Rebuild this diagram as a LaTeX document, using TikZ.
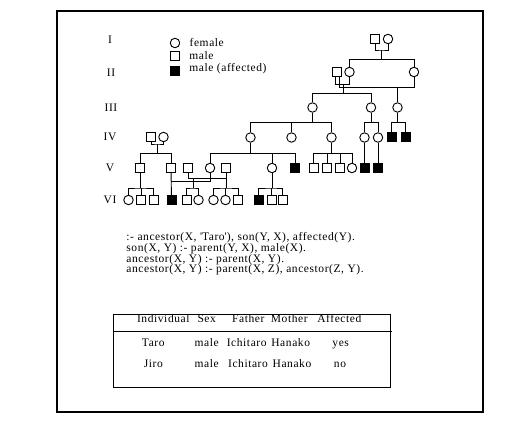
\documentclass[tikz,border=0pt]{standalone}
\usepackage{fontspec}
\setmainfont{Liberation Serif}[LetterSpace=5]
\usetikzlibrary{positioning}

\begin{document}
\begin{tikzpicture}[x=1pt,y=-1pt,line width=0.9pt,
  female/.style={draw,circle,minimum size=9.5pt,inner sep=0pt},
  male/.style={draw,rectangle,minimum size=9pt,inner sep=0pt},
  affected/.style={male,fill=black},
  txt/.style={inner sep=0pt,font=\fontsize{11.5}{10.7}\selectfont},
  cell/.style={txt,text height=8pt,text depth=2.5pt}]

\useasboundingbox (0,0) rectangle (515,426);
\draw[line width=1.3pt] (57,11) rectangle (483,412);

% generation labels
\node[txt] (g1) at (110,40) {I};
\node[txt] (g2) at (111,73) {II};
\node[txt] (g3) at (111,108) {III};
\node[txt] (g4) at (110,137) {IV};
\node[txt] (g5) at (110,168) {V};
\node[txt] (g6) at (110,200) {VI};

% legend
\node[female] (lf) at (175,43) {};
\node[male] (lm) at (175,55.5) {};
\node[affected] (la) at (175,71) {};
\node[txt,right=9pt of lf] (tf) {female};
\node[txt,right=9pt of lm] (tm) {male};
\node[txt,right=9pt of la,yshift=2pt] (ta) {male (affected)};

% generation I
\node[male] (a1) at (375,39) {};
\node[female] (a2) at (388,39) {};
% generation II
\node[male] (b1) at (337,72) {};
\node[female] (b2) at (349.5,72) {};
\node[female] (b3) at (414,72) {};
% generation III
\node[female] (c1) at (312.5,107.5) {};
\node[female] (c2) at (371,107.5) {};
\node[female] (c3) at (397.5,107.5) {};
% generation IV
\node[male] (d1) at (151,137) {};
\node[female] (d2) at (163.5,137) {};
\node[female] (d3) at (250.5,137.5) {};
\node[female] (d4) at (291.5,137.5) {};
\node[female] (d5) at (331.5,137.5) {};
\node[female] (d6) at (364.5,137.5) {};
\node[female] (d7) at (378,137.5) {};
\node[affected] (d8) at (391.5,137) {};
\node[affected] (d9) at (405.5,137) {};
% generation V
\node[male] (e1) at (140,168) {};
\node[male] (e2) at (171,168) {};
\node[male] (e3) at (188,168) {};
\node[female] (e4) at (210,168) {};
\node[male] (e5) at (226,168) {};
\node[female] (e6) at (272,168) {};
\node[affected] (e7) at (295,168) {};
\node[male] (e8) at (313.5,168) {};
\node[male] (e9) at (327,168) {};
\node[male] (e10) at (340,168) {};
\node[female] (e11) at (352,168) {};
\node[affected] (e12) at (364.5,168) {};
\node[affected] (e13) at (378,168) {};
% generation VI
\node[female] (f1) at (128.5,200) {};
\node[male] (f2) at (141,200) {};
\node[male] (f3) at (153.5,200) {};
\node[affected] (f4) at (171.5,200) {};
\node[male] (f5) at (186.5,200) {};
\node[female] (f6) at (198.5,200) {};
\node[female] (f7) at (213.5,200) {};
\node[female] (f8) at (225.5,200) {};
\node[male] (f9) at (238,200) {};
\node[affected] (f10) at (258.5,200) {};
\node[male] (f11) at (271.5,200) {};
\node[male] (f12) at (282.5,200) {};

% I -> II
\coordinate (m1) at (381.5,50);
\coordinate (s1) at (381.5,59.5);
\draw (a1) |- (m1) -| (a2);
\draw (m1) -- (s1);
\draw (b2) |- (s1) -| (b3);

% II -> III
\coordinate (m2) at (343.5,84.5);
\coordinate (m3) at (397.5,87.5);
\coordinate (s2) at (343.5,93.5);
\draw ([xshift=-1.5pt]b1.south) |- (m2) -| (b2);
\draw ([xshift=2pt]b1.south) |- (m3) -| (b3);
\draw (m2) -- (s2);
\draw (c1) |- (s2) -| (c2);
\draw (m3) -- (c3);

% III -> IV
\coordinate (s3) at (312.5,122.5);
\coordinate (s4) at (371,122.5);
\coordinate (s5) at (398,122.5);
\draw (c1) -- (s3);
\draw (d3) |- (s3) -| (d5);
\draw (d4) -- (d4 |- s3);
\draw (c2) -- (s4);
\draw (d6) |- (s4) -| (d7);
\draw (c3) -- (c3 |- s5);
\draw (d8) |- (s5) -| (d9);

% IV -> V
\coordinate (m4) at (157.25,144);
\coordinate (s6) at (157.25,153.5);
\coordinate (s7) at (250.5,153.5);
\coordinate (s8) at (331.5,153.5);
\draw (d1) |- (m4) -| (d2);
\draw (m4) -- (s6);
\draw (e1) |- (s6) -| (e2);
\draw (d3) -- (s7);
\draw (e4) |- (s7) -| (e7);
\draw (e6) -- (e6 |- s7);
\draw (d5) -- (s8);
\draw (e8) |- (s8) -| (e11);
\draw (e9) -- (e9 |- s8);
\draw (e10) -- (e10 |- s8);
\draw (d6) -- (e12);
\draw (d7) -- (e13);

% V -> VI
\coordinate (m5) at (210,181);
\coordinate (m6) at (193.5,178);
\coordinate (s9) at (193.5,188);
\coordinate (s10) at (226,188);
\coordinate (s11) at (140,188);
\coordinate (s12) at (272,188);
\draw (e2) -- (f4);
\draw (e4) -- (m5) -- (e2 |- m5);
\draw (e3) |- (e5 |- m6);
\draw (m6) -- (s9);
\draw (f5) |- (s9) -| (f6);
\draw (e5) -- (s10);
\draw (f7) |- (s10) -| (f9);
\draw (f8) -- (f8 |- s10);
\draw (e1) -- (s11);
\draw (f1) |- (s11) -| (f3);
\draw (f2) -- (f2 |- s11);
\draw (e6) -- (s12);
\draw (f10) |- (s12) -| (f12);
\draw (f11) -- (f11 |- s12);

% query and rules
\node[txt,align=left,anchor=north west] (rules) at (126,232.3) {%
  :- ancestor(X, \textquotesingle Taro\textquotesingle), son(Y, X), affected(Y).\\
  son(X, Y) :- parent(Y, X), male(X).\\
  ancestor(X, Y) :- parent(X, Y).\\
  ancestor(X, Y) :- parent(X, Z), ancestor(Z, Y).};

% table
\node[draw,line width=1.1pt,minimum width=277.3pt,minimum height=73.3pt,anchor=north west] (tab) at (112.7,314) {};
\draw ([yshift=-17.7pt]tab.north west) -- ([yshift=-17.7pt,xshift=1pt]tab.north east);
\node[cell] (h1) at (163.3,320) {Individual};
\node[cell] (h2) at (206.7,320) {Sex};
\node[cell] (h3) at (248.3,320) {Father};
\node[cell] (h4) at (289.3,320) {Mother};
\node[cell] (h5) at (339.3,320) {Affected};
\node[cell] (r11) at (153.3,343.5) {Taro};
\node[cell] (r12) at (206.7,343.5) {male};
\node[cell] (r13) at (246.7,343.5) {Ichitaro};
\node[cell] (r14) at (290.7,343.5) {Hanako};
\node[cell] (r15) at (340.7,343.5) {yes};
\node[cell] (r21) at (153.3,364.5) {Jiro};
\node[cell] (r22) at (206.7,364.5) {male};
\node[cell] (r23) at (248,364.5) {Ichitaro};
\node[cell] (r24) at (292,364.5) {Hanako};
\node[cell] (r25) at (340,364.5) {no};

\end{tikzpicture}
\end{document}
